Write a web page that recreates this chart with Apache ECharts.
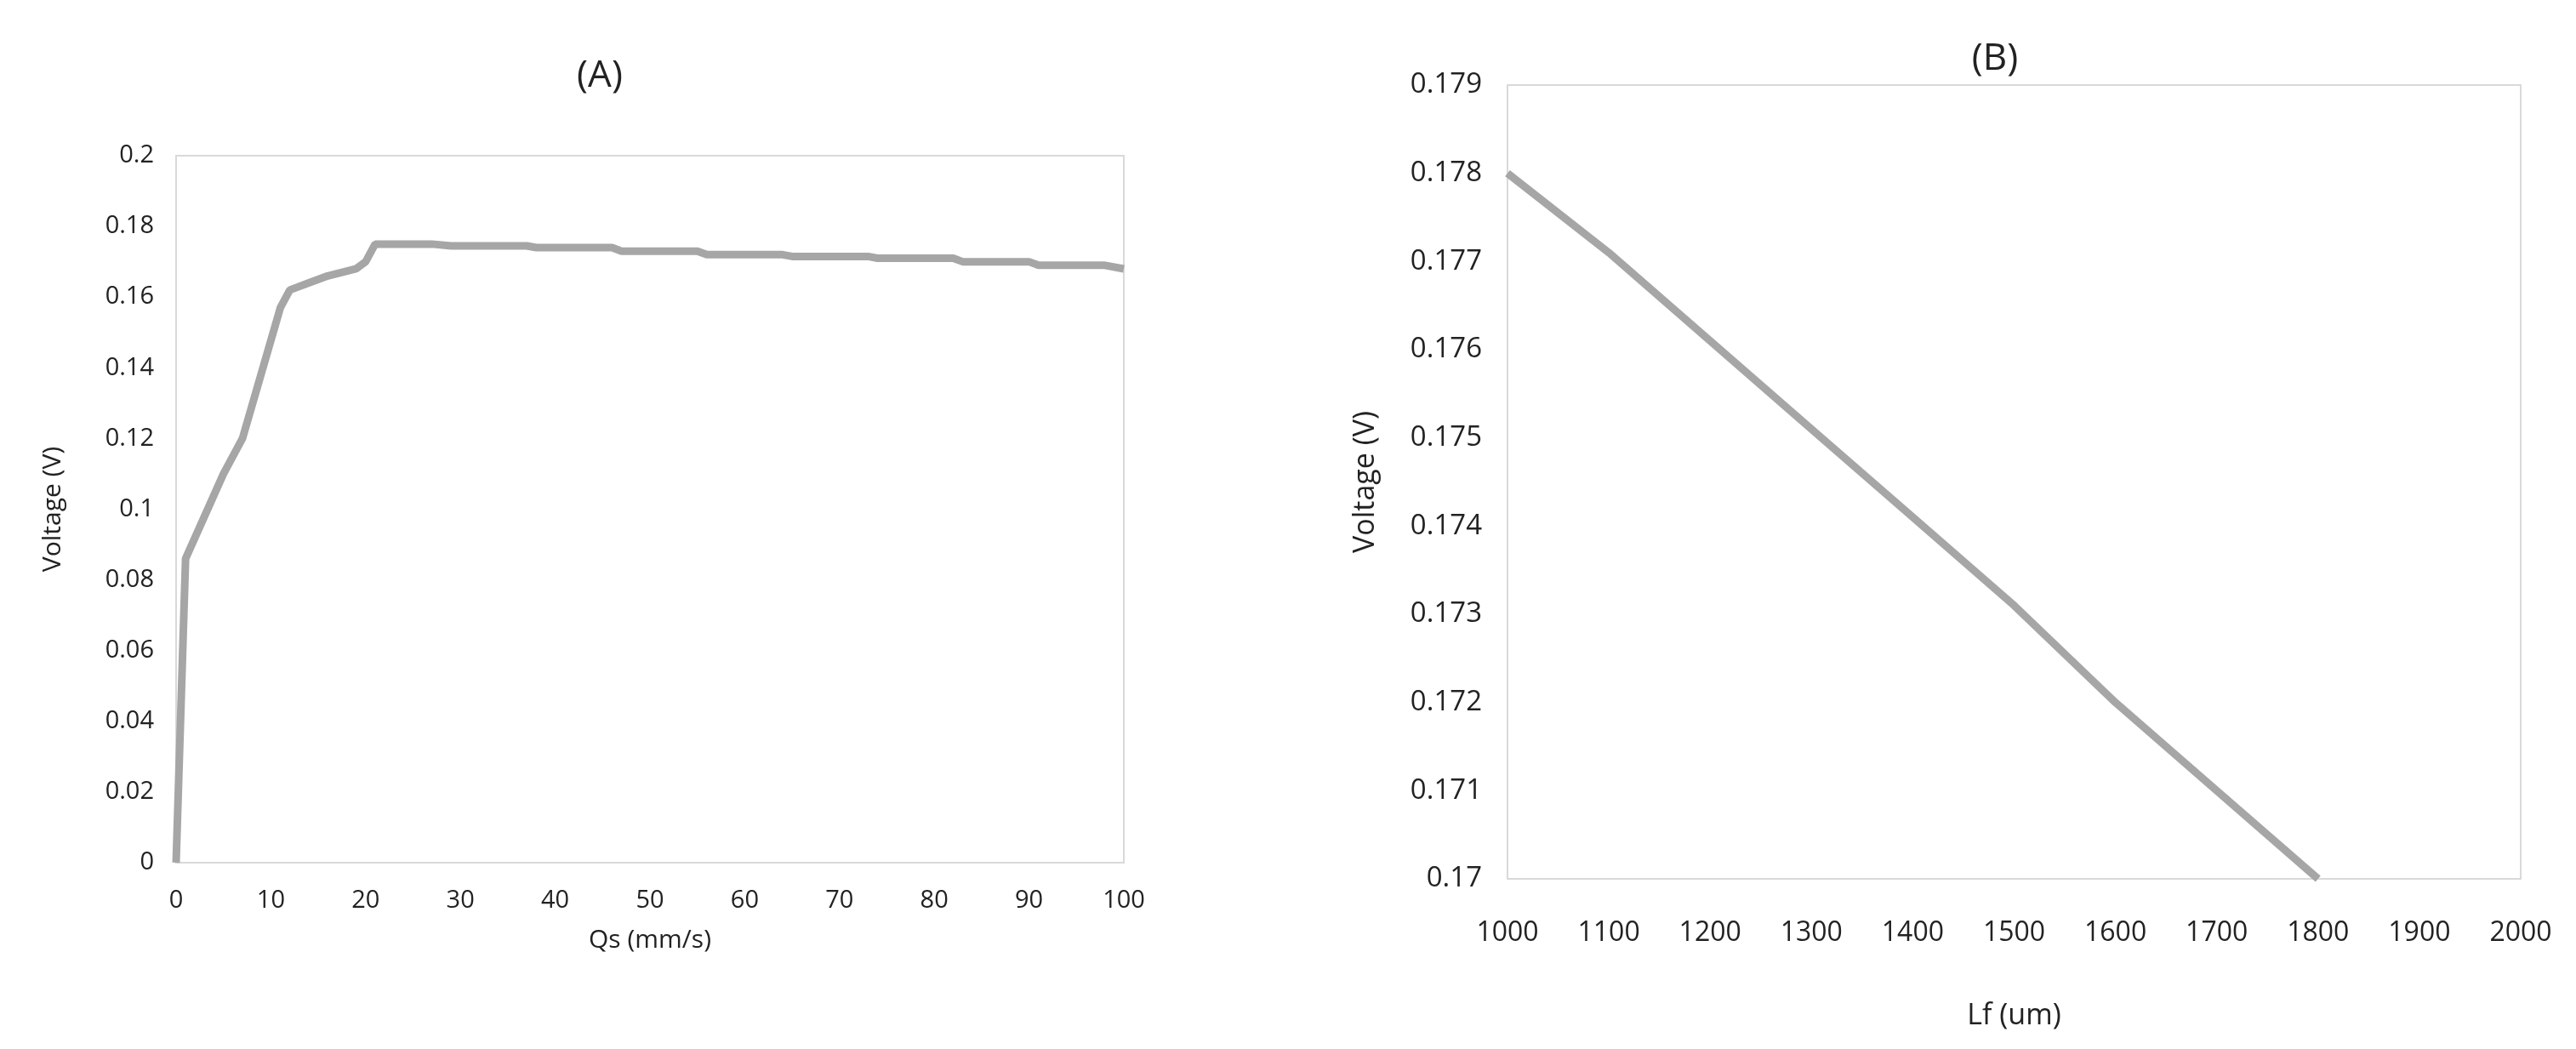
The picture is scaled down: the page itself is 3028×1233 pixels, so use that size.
<!DOCTYPE html>
<html>
<head>
<meta charset="UTF-8">
<script src="https://cdn.jsdelivr.net/npm/echarts@6/dist/echarts.min.js"></script>
<style>
html, body { margin: 0; padding: 0; background: #fff; }
#chart { width: 3028px; height: 1233px; }
</style>
</head>
<body>
<div id="chart"></div>
<script>
// (A) voltage vs Qs
var qsValues = [0, 1, 5, 7, 11, 12, 14, 16, 19, 20, 21, 27, 29, 37, 38, 46, 47, 55, 56, 64, 65, 73, 74, 82, 83, 90, 91, 98, 100];
var voltageA = [0, 0.086, 0.11, 0.12, 0.157, 0.162, 0.164, 0.166, 0.168, 0.17, 0.175, 0.175, 0.1745, 0.1745, 0.174, 0.174, 0.173, 0.173, 0.172, 0.172, 0.1715, 0.1715, 0.171, 0.171, 0.17, 0.17, 0.169, 0.169, 0.168];
// (B) voltage vs Lf
var lfValues = [1000, 1100, 1200, 1300, 1400, 1500, 1600, 1700, 1800];
var voltageB = [0.178, 0.1771, 0.1761, 0.1751, 0.1741, 0.1731, 0.1720, 0.1710, 0.1700];

var font = 'Open Sans';
var txt = '#222';
var chart = echarts.init(document.getElementById('chart'));

function pairs(xs, ys) {
    return xs.map(function (x, i) { return [x, ys[i]]; });
}

var lineStyle = { color: '#a6a6a6', width: 9 };

chart.setOption({
    animation: false,
    title: [
        { text: '(A)', left: 700, top: 62, textAlign: 'center',
          textStyle: { fontFamily: font, fontSize: 44, fontWeight: 'normal', color: txt } },
        { text: '(B)', left: 2340, top: 42, textAlign: 'center',
          textStyle: { fontFamily: font, fontSize: 44, fontWeight: 'normal', color: txt } }
    ],
    grid: [
        { left: 207, top: 183, width: 1114, height: 831, show: true, borderColor: '#d9d9d9', borderWidth: 2 },
        { left: 1772, top: 100, width: 1191, height: 933, show: true, borderColor: '#d9d9d9', borderWidth: 2 }
    ],
    xAxis: [
        { gridIndex: 0, type: 'value', min: 0, max: 100, interval: 10,
          name: 'Qs (mm/s)', nameLocation: 'middle', nameGap: 76,
          nameTextStyle: { fontFamily: font, fontSize: 30, color: txt },
          axisLine: { show: false }, axisTick: { show: false }, splitLine: { show: false },
          axisLabel: { fontFamily: font, fontSize: 29, color: txt, margin: 30 } },
        { gridIndex: 1, type: 'value', min: 1000, max: 2000, interval: 100,
          name: 'Lf (um)', nameLocation: 'middle', nameGap: 144,
          nameTextStyle: { fontFamily: font, fontSize: 34, color: txt },
          axisLine: { show: false }, axisTick: { show: false }, splitLine: { show: false },
          axisLabel: { fontFamily: font, fontSize: 32, color: txt, margin: 48,
                       formatter: function (v) { return String(v); } } }
    ],
    yAxis: [
        { gridIndex: 0, type: 'value', min: 0, max: 0.2, interval: 0.02,
          name: 'Voltage (V)', nameLocation: 'middle', nameGap: 130,
          nameTextStyle: { fontFamily: font, fontSize: 30, color: txt },
          axisLine: { show: false }, axisTick: { show: false }, splitLine: { show: false },
          axisLabel: { fontFamily: font, fontSize: 29, color: txt, margin: 26,
                       formatter: function (v) { return +v.toFixed(2) + ''; } } },
        { gridIndex: 1, type: 'value', min: 0.17, max: 0.179, interval: 0.001,
          name: 'Voltage (V)', nameLocation: 'middle', nameGap: 150,
          nameTextStyle: { fontFamily: font, fontSize: 34, color: txt },
          axisLine: { show: false }, axisTick: { show: false }, splitLine: { show: false },
          axisLabel: { fontFamily: font, fontSize: 33, color: txt, margin: 30,
                       formatter: function (v) { return +v.toFixed(3) + ''; } } }
    ],
    series: [
        { type: 'line', xAxisIndex: 0, yAxisIndex: 0, data: pairs(qsValues, voltageA),
          showSymbol: false, lineStyle: lineStyle },
        { type: 'line', xAxisIndex: 1, yAxisIndex: 1, data: pairs(lfValues, voltageB),
          showSymbol: false, lineStyle: lineStyle }
    ]
});
</script>
</body>
</html>
